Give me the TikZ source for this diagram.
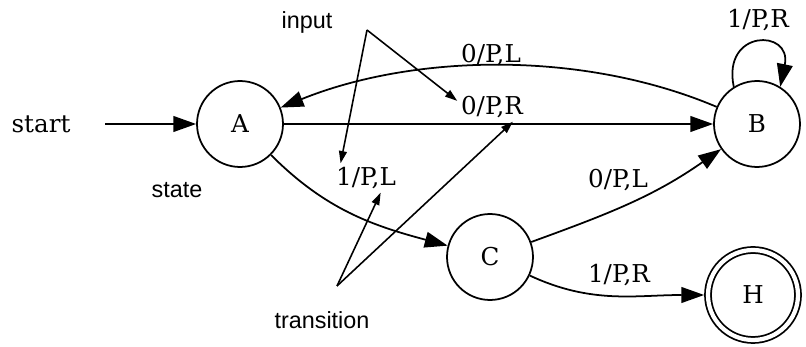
\documentclass[tikz,border=0pt]{standalone}
\usepackage{fontspec}
\setmainfont{DejaVu Serif}
\newfontfamily\notefont{Liberation Sans}
\usetikzlibrary{arrows.meta}
\tikzset{
  statecirc/.style={circle,draw,line width=1pt,minimum size=1.72cm,inner sep=0pt,
    font=\fontsize{14}{16}\selectfont},
  haltcirc/.style={statecirc,minimum size=1.8cm,double,double distance=2.4pt,outer sep=2.2pt},
  lbl/.style={inner sep=2pt,font=\fontsize{14}{16}\selectfont},
  note/.style={inner sep=1pt,font=\notefont\fontsize{13.3}{15}\selectfont},
  trans/.style={line width=1pt,-{Triangle[length=13pt,width=9pt]}},
  pointer/.style={line width=0.9pt,-{Triangle[length=7pt,width=4.5pt]}}
}
\begin{document}
\begin{tikzpicture}[x=0.02cm,y=-0.02cm]
            \useasboundingbox (0,0) rectangle (806,347);
            % states
            \node[statecirc] at (240,124) (A) {A};
            \node[statecirc] at (757,124) (B) {B};
            \node[statecirc] at (490,257) (C) {C};
            \node[haltcirc] at (753,295) (H) {H};
            \node[lbl] at (41,124) (start) {start};
            \coordinate (startend) at (105,124);
            % transition labels
            \node[lbl] at (492,107) (lAB) {0/P,R};
            \node[lbl] at (491,55) (lBA) {0/P,L};
            \node[lbl] at (758,20) (lBB) {1/P,R};
            \node[lbl] at (366,178) (lAC) {1/P,L};
            \node[lbl] at (618,180) (lCB) {0/P,L};
            \node[lbl] at (619,275) (lCH) {1/P,R};
            % transitions
            \draw[trans] (startend) -- (A);
            \draw[trans] (A) -- (B);
            \draw[trans] (B) to[out=157,in=22,looseness=0.85] (A);
            \draw[trans] (B.122) .. controls +(-12,-58) and +(12,-58) .. (B.58);
            \draw[trans] (A) to[out=-45,in=165] (C);
            \draw[trans] (C) to[out=20,in=215] (B);
            \draw[trans] (C) to[out=-25,in=180] (H);
            % annotations
            \node[note] at (307,22) (input) {input};
            \node[note] at (177,190) (state) {state};
            \node[note] at (322,320) (transition) {transition};
            \coordinate (inputfork) at (367,30);
            \coordinate (transfork) at (337,286);
            \draw[pointer] (inputfork) -- (lAB.170);
            \draw[pointer] (inputfork) -- (lAC.150);
            \draw[pointer] (transfork) -- (lAC.-45);
            \draw[pointer] (transfork) -- (lAB.-35);
\end{tikzpicture}
\end{document}
